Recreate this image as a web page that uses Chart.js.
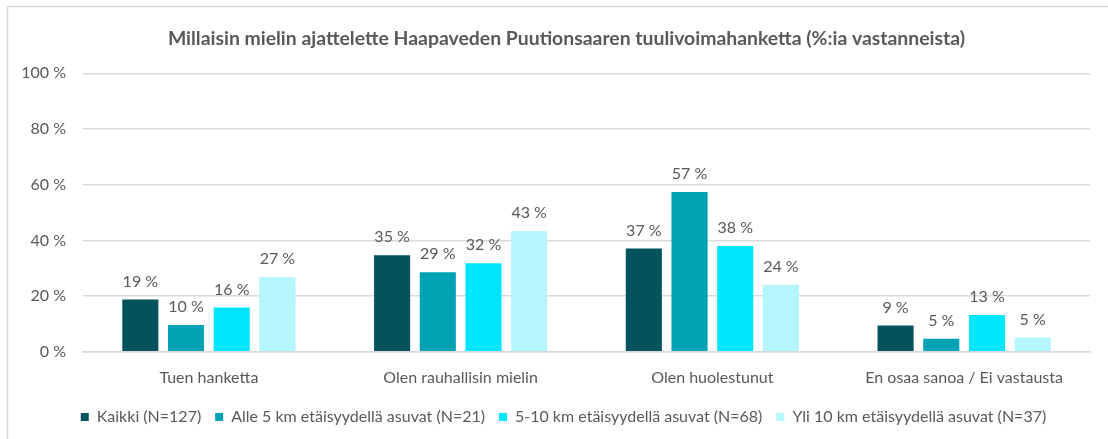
<!DOCTYPE html>
<html>
<head>
<meta charset="utf-8">
<script src="https://cdn.jsdelivr.net/npm/chart.js@4/dist/chart.umd.min.js"></script>
<style>
  html, body { margin: 0; padding: 0; background: #fff; }
  #wrap { width: 1108px; height: 439px; }
</style>
</head>
<body>
<div id="wrap"><canvas id="mielipide"></canvas></div>
<script>
const categories = ['Tuen hanketta', 'Olen rauhallisin mielin', 'Olen huolestunut', 'En osaa sanoa / Ei vastausta'];
const seriesNames = [
    'Kaikki (N=127)',
    'Alle 5 km etäisyydellä asuvat (N=21)',
    '5-10 km etäisyydellä asuvat (N=68)',
    'Yli 10 km etäisyydellä asuvat (N=37)'
];
const kaikki = [18.8, 34.7, 37.1, 9.4];
const alle5 = [9.6, 28.6, 57.4, 4.7];
const km5to10 = [15.9, 31.8, 38.0, 13.2];
const yli10 = [26.8, 43.3, 24.1, 5.1];
const yTicks = [0, 20, 40, 60, 80, 100];

const colors = ['#02535b', '#00a2b3', '#00e6ff', '#b5f5fc'];
const grey = '#595959';
const fontFamily = 'Lato, "Open Sans", sans-serif';

// thin frame on the left and top edge
const framePlugin = {
    id: 'frame',
    beforeDraw(chart) {
        const ctx = chart.ctx;
        ctx.save();
        ctx.strokeStyle = '#d9d9d9';
        ctx.lineWidth = 1.5;
        ctx.beginPath();
        ctx.moveTo(7.5, chart.height);
        ctx.lineTo(7.5, 6.5);
        ctx.lineTo(chart.width, 6.5);
        ctx.stroke();
        ctx.restore();
    }
};

// title and legend sit centred on the frame, not on the plot
const shiftBoxes = {
    id: 'shiftBoxes',
    afterLayout(chart) {
        chart.titleBlock.left += 18;
        chart.titleBlock.right += 18;
        chart.legend.left += 15;
        chart.legend.right += 15;
    }
};

// value labels above each bar
const valueLabels = {
    id: 'valueLabels',
    afterDatasetsDraw(chart) {
        const ctx = chart.ctx;
        ctx.save();
        ctx.font = '16px ' + fontFamily;
        ctx.fillStyle = grey;
        ctx.textAlign = 'center';
        ctx.textBaseline = 'middle';
        chart.data.datasets.forEach((ds, i) => {
            chart.getDatasetMeta(i).data.forEach((bar, j) => {
                ctx.fillText(Math.round(ds.data[j]) + ' %', bar.x, bar.y - 18);
            });
        });
        ctx.restore();
    }
};

const datasets = [kaikki, alle5, km5to10, yli10].map((values, i) => ({
    label: seriesNames[i],
    data: values,
    backgroundColor: colors[i],
    categoryPercentage: 0.726,
    barPercentage: 0.79
}));

new Chart(document.getElementById('mielipide'), {
    type: 'bar',
    data: { labels: categories, datasets: datasets },
    options: {
        responsive: true,
        maintainAspectRatio: false,
        animation: false,
        layout: { padding: { left: 7, right: 18, top: 0, bottom: 4 } },
        plugins: {
            title: {
                display: true,
                text: 'Millaisin mielin ajattelette Haapaveden Puutionsaaren tuulivoimahanketta (%:ia vastanneista)',
                color: grey,
                font: { family: fontFamily, size: 19.4, weight: 'bold' },
                padding: { top: 27, bottom: 23 }
            },
            legend: {
                position: 'bottom',
                labels: {
                    color: grey,
                    font: { family: fontFamily, size: 16 },
                    boxWidth: 8,
                    boxHeight: 8,
                    padding: 14
                }
            },
            tooltip: { enabled: false }
        },
        scales: {
            x: {
                grid: { display: false },
                border: { color: '#d9d9d9', width: 1.5 },
                ticks: {
                    color: grey,
                    font: { family: fontFamily, size: 16 },
                    padding: 8
                }
            },
            y: {
                min: 0,
                max: 100,
                afterFit(scale) { scale.width = 76; },
                afterBuildTicks(scale) { scale.ticks = yTicks.map(v => ({ value: v })); },
                grid: { color: '#d9d9d9', lineWidth: 1.5, drawTicks: false },
                border: { display: false },
                ticks: {
                    color: grey,
                    font: { family: fontFamily, size: 16 },
                    padding: 17,
                    callback: v => v + ' %'
                }
            }
        }
    },
    plugins: [framePlugin, shiftBoxes, valueLabels]
});
</script>
</body>
</html>
